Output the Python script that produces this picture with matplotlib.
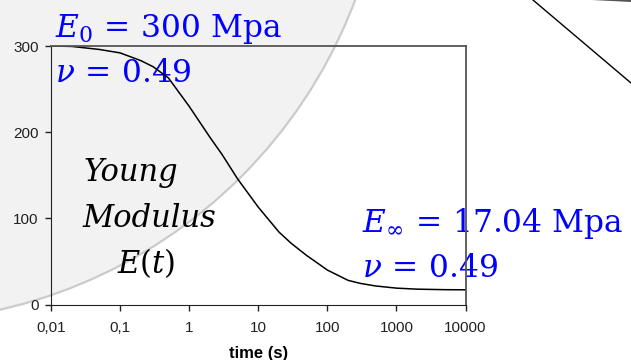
import matplotlib
matplotlib.use("Agg")
import matplotlib.pyplot as plt
from matplotlib.patches import Circle, Polygon

# relaxation curve
time_s = [0.01, 0.02, 0.05, 0.1, 0.2, 0.3, 0.5, 1, 2, 3, 5, 10, 20, 30, 50,
          100, 200, 300, 500, 1000, 2000, 5000, 10000]
young = [300, 299.5, 296, 292, 283, 276, 263, 230, 194, 174, 146, 113, 84, 71, 57,
         40, 28, 24.5, 21.5, 19, 17.8, 17.2, 17.04]

x_ticks = [0.01, 0.1, 1, 10, 100, 1000, 10000]
x_labels = ["0,01", "0,1", "1", "10", "100", "1000", "10000"]
y_ticks = [0, 100, 200, 300]

W, H = 631, 360
plt.rcParams['mathtext.fontset'] = 'dejavuserif'
plt.rcParams['font.family'] = ['Liberation Sans', 'DejaVu Sans']
fig = plt.figure(figsize=(W / 100, H / 100), dpi=100)

# background layer in pixel coords (gray disc + stray line)
bg = fig.add_axes([0, 0, 1, 1], zorder=0)
bg.set_xlim(0, W)
bg.set_ylim(H, 0)
bg.axis("off")
bg.add_patch(Circle((-110, -175), 497, facecolor="#f2f2f2", edgecolor="#cbcbcb", lw=1.6))
bg.plot([533, 631], [0, 83], color="black", lw=1.0)
bg.add_patch(Polygon([(592, 0), (631, 0), (631, 1.8)], closed=True, color="#555555", lw=0))

ax = fig.add_axes([51 / W, 1 - 304.5 / H, (465.5 - 51) / W, (304.5 - 46) / H], zorder=1)
ax.patch.set_alpha(0)
ax.plot(time_s, young, color="black", lw=1.1)
ax.set_xscale("log")
ax.set_xlim(0.01, 10000)
ax.set_ylim(0, 300)
ax.set_xticks(x_ticks)
ax.set_xticklabels(x_labels)
ax.minorticks_off()
ax.set_yticks(y_ticks)
ax.tick_params(direction="out", length=4, width=1, labelsize=11, colors="#222222", pad=5)
ax.tick_params(axis="x", pad=8)
ax.set_xlabel("time (s)", fontsize=12, fontweight="bold", labelpad=8)
for s in ["left", "bottom"]:
    ax.spines[s].set_color("#222222")
for s in ["top", "right"]:
    ax.spines[s].set_color("#555555")
    ax.spines[s].set_linewidth(1.3)

# annotations in pixel coords
blue = "#0000ff"
fs = 22.5
bg.text(55, 37, r"$E_0\,=\,300\ \mathrm{Mpa}$", color=blue, fontsize=fs, va="baseline", zorder=3)
bg.text(55, 82, r"$\nu\,=\,0.49$", color=blue, fontsize=fs, va="baseline", zorder=3)
bg.text(362, 232, r"$E_\infty\,=\,17.04\ \mathrm{Mpa}$", color=blue, fontsize=fs, va="baseline", zorder=3)
bg.text(362, 277, r"$\nu\,=\,0.49$", color=blue, fontsize=fs, va="baseline", zorder=3)

bg.text(131, 181, "Young", family="DejaVu Serif", style="italic", fontsize=22, ha="center", va="baseline")
bg.text(149, 227, "Modulus", family="DejaVu Serif", style="italic", fontsize=22, ha="center", va="baseline")
bg.text(146, 273, r"$E(t)$", fontsize=22, ha="center", va="baseline")

fig.savefig("out.png", dpi=100)
